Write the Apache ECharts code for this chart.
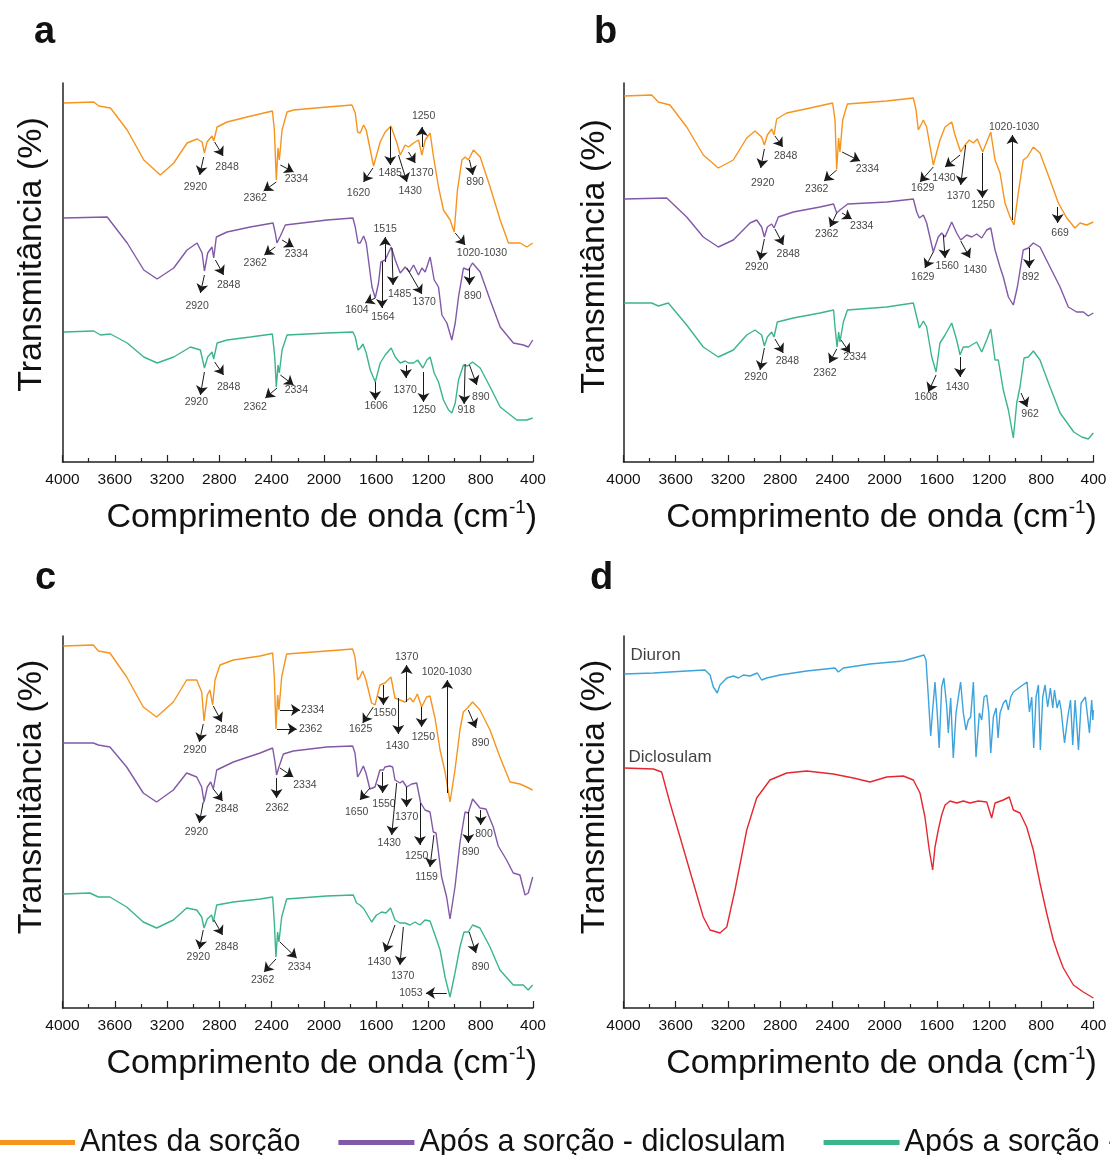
<!DOCTYPE html>
<html>
<head>
<meta charset="utf-8">
<script src="https://cdn.jsdelivr.net/npm/echarts@6/dist/echarts.min.js"></script>
<style>
html, body { margin: 0; padding: 0; background: #fff; }
#main { width: 1110px; height: 1155px; }
</style>
</head>
<body>
<div id="main"></div>
<script>
// FTIR spectra, x = wavenumber (cm-1), y = transmittance in arbitrary offset units
var xTicks = [4000, 3600, 3200, 2800, 2400, 2000, 1600, 1200, 800, 400];

var nameBefore = 'Antes da sorção';
var nameDic = 'Após a sorção - diclosulam';
var nameDiu = 'Após a sorção - diuron';

// panel a
var aBefore = [[3990,359],[3761,360],[3722,356],[3633,354],[3505,332],[3378,302],[3251,287],[3149,299],[3047,319],[2970,323],[2932,320],[2914,309],[2894,320],[2856,326],[2843,321],[2817,335],[2741,340],[2588,345],[2394,351],[2379,332],[2364,282],[2351,314],[2341,302],[2320,332],[2282,350],[2232,352],[1976,355],[1785,357],[1760,349],[1742,330],[1722,329],[1696,337],[1676,332],[1620,296],[1569,320],[1531,330],[1487,336],[1441,319],[1416,307],[1378,317],[1352,315],[1314,319],[1276,322],[1250,307],[1225,322],[1187,329],[1161,305],[1123,275],[1085,252],[1034,242],[1003,230],[978,272],[944,302],[919,305],[894,302],[856,312],[804,305],[728,275],[651,242],[588,219],[498,219],[447,215],[402,219]];
var aDiclosulam = [[3990,244],[3658,245],[3505,219],[3378,192],[3276,183],[3149,194],[3047,212],[2970,219],[2932,209],[2914,191],[2889,209],[2856,215],[2843,204],[2823,225],[2741,230],[2563,235],[2389,239],[2372,229],[2359,219],[2333,226],[2295,237],[1976,242],[1778,244],[1760,235],[1739,219],[1722,219],[1696,226],[1676,219],[1632,175],[1607,164],[1582,179],[1564,200],[1531,202],[1485,215],[1454,202],[1416,189],[1378,195],[1345,190],[1314,197],[1276,187],[1250,194],[1225,190],[1187,205],[1156,182],[1123,175],[1097,147],[1059,139],[1021,122],[995,139],[970,165],[932,194],[894,192],[863,199],[804,190],[728,162],[651,135],[550,119],[473,117],[435,115],[402,122]];
var aDiuron = [[3990,130],[3761,131],[3709,127],[3633,128],[3505,119],[3378,105],[3276,99],[3149,105],[3021,115],[2945,112],[2914,94],[2889,105],[2856,110],[2843,103],[2817,119],[2741,122],[2563,125],[2394,128],[2376,105],[2364,75],[2351,97],[2341,89],[2320,112],[2282,127],[1976,129],[1778,130],[1760,125],[1739,112],[1722,114],[1701,118],[1676,109],[1645,92],[1607,80],[1569,99],[1531,107],[1485,114],[1454,105],[1416,99],[1378,101],[1352,99],[1314,99],[1283,102],[1243,94],[1212,102],[1187,105],[1156,89],[1123,80],[1085,62],[1046,52],[1021,49],[995,59],[970,82],[932,97],[901,96],[863,100],[804,94],[728,75],[651,55],[524,42],[447,42],[402,44]];

// panel b
var bBefore = [[3995,366],[3784,367],[3733,360],[3644,357],[3516,335],[3389,307],[3274,294],[3159,302],[3056,324],[2993,331],[2942,325],[2921,317],[2898,327],[2865,333],[2847,327],[2827,343],[2750,349],[2571,354],[2398,359],[2380,342],[2367,293],[2352,324],[2342,310],[2321,342],[2285,358],[1984,361],[1780,364],[1759,352],[1742,332],[1729,332],[1703,342],[1678,335],[1627,297],[1576,322],[1537,335],[1486,340],[1461,327],[1417,310],[1384,317],[1351,322],[1320,319],[1290,323],[1249,310],[1218,320],[1187,330],[1154,302],[1116,289],[1078,259],[1039,245],[1009,237],[976,269],[938,302],[907,305],[861,315],[810,309],[733,282],[669,259],[605,244],[542,234],[503,239],[452,237],[401,240]];
var bDiclosulam = [[3995,263],[3669,264],[3516,245],[3389,225],[3274,215],[3159,222],[3031,239],[2980,242],[2942,235],[2921,225],[2898,235],[2865,238],[2847,234],[2814,245],[2699,250],[2495,255],[2391,258],[2367,249],[2342,252],[2283,258],[1984,260],[1780,263],[1754,250],[1734,244],[1703,247],[1678,239],[1627,210],[1589,225],[1563,229],[1537,225],[1486,240],[1448,229],[1417,222],[1371,227],[1333,225],[1295,228],[1256,224],[1218,232],[1187,234],[1154,212],[1116,195],[1091,185],[1052,165],[1014,157],[983,175],[938,212],[899,214],[861,219],[810,215],[733,195],[656,175],[593,155],[529,150],[478,150],[440,146],[401,149]];
var bDiuron = [[3995,159],[3784,159],[3733,156],[3657,159],[3516,137],[3389,115],[3274,105],[3159,112],[3056,127],[2993,132],[2942,127],[2921,116],[2898,125],[2865,130],[2847,125],[2822,140],[2699,144],[2495,149],[2391,152],[2380,135],[2364,115],[2352,130],[2342,120],[2316,140],[2285,152],[1984,155],[1780,159],[1754,145],[1734,134],[1703,141],[1678,135],[1639,105],[1606,90],[1576,119],[1537,127],[1486,139],[1448,122],[1422,107],[1397,115],[1358,115],[1333,117],[1295,120],[1256,110],[1218,122],[1187,133],[1154,102],[1129,102],[1091,72],[1052,52],[1014,24],[988,59],[963,75],[932,104],[899,105],[861,111],[810,102],[733,75],[656,49],[551,30],[490,25],[440,23],[401,29]];

// panel c
var cBefore = [[3994,362],[3764,363],[3726,357],[3637,355],[3509,331],[3382,301],[3280,291],[3152,306],[3050,328],[2973,328],[2935,316],[2917,287],[2892,313],[2872,318],[2851,303],[2833,328],[2795,343],[2693,348],[2488,352],[2392,355],[2379,331],[2367,279],[2354,313],[2344,298],[2323,331],[2285,354],[1979,357],[1780,359],[1762,351],[1742,328],[1724,331],[1703,337],[1678,328],[1635,305],[1609,303],[1571,323],[1533,325],[1487,331],[1456,310],[1418,308],[1380,306],[1341,310],[1316,306],[1285,314],[1252,301],[1214,311],[1188,312],[1150,290],[1111,258],[1073,236],[1035,206],[997,238],[959,278],[933,296],[902,300],[862,306],[806,298],[729,278],[653,251],[576,226],[500,224],[449,221],[403,218]];
var cDiclosulam = [[3994,265],[3764,265],[3726,263],[3637,261],[3509,241],[3382,215],[3280,206],[3152,218],[3050,235],[2973,231],[2935,221],[2917,206],[2892,221],[2866,226],[2846,219],[2820,238],[2693,246],[2488,255],[2392,260],[2374,246],[2362,233],[2344,241],[2310,254],[2234,257],[1979,261],[1780,262],[1762,255],[1742,231],[1724,235],[1698,242],[1678,235],[1648,219],[1609,221],[1571,238],[1545,238],[1533,241],[1495,242],[1474,241],[1456,228],[1418,225],[1397,227],[1367,221],[1328,224],[1290,225],[1259,205],[1226,198],[1188,196],[1163,176],[1142,175],[1099,131],[1061,111],[1035,89],[997,121],[959,165],[920,196],[895,195],[862,209],[806,200],[760,199],[704,181],[666,162],[602,148],[551,135],[500,133],[461,113],[436,115],[402,131]];
var cDiuron = [[3994,114],[3790,115],[3726,111],[3637,111],[3509,101],[3382,86],[3280,80],[3152,88],[3050,100],[2973,98],[2935,91],[2917,80],[2892,89],[2859,93],[2846,86],[2820,103],[2693,106],[2488,109],[2392,111],[2379,85],[2367,51],[2354,76],[2344,66],[2323,91],[2285,109],[1979,112],[1775,113],[1750,105],[1724,103],[1693,99],[1635,86],[1597,93],[1558,96],[1525,95],[1490,100],[1456,88],[1418,85],[1380,85],[1341,83],[1303,86],[1265,83],[1226,88],[1188,87],[1150,73],[1111,58],[1073,31],[1035,11],[997,35],[959,61],[928,76],[895,76],[862,83],[806,80],[729,61],[653,38],[551,23],[474,23],[437,18],[403,23]];

// panel d (pure herbicides)
var dDiuron = [[3995,334],[3771,335],[3516,337],[3376,338],[3337,333],[3312,321],[3282,315],[3261,323],[3209,330],[3159,332],[3120,330],[3082,333],[3031,332],[2975,335],[2942,328],[2903,330],[2801,333],[2597,337],[2380,340],[2354,336],[2316,340],[2112,344],[1857,347],[1698,353],[1683,348],[1665,311],[1647,272],[1632,298],[1614,326],[1597,295],[1582,260],[1563,321],[1546,330],[1524,301],[1512,275],[1494,310],[1474,250],[1453,295],[1436,310],[1418,326],[1397,295],[1377,278],[1359,288],[1341,291],[1320,326],[1300,251],[1274,295],[1256,288],[1238,311],[1218,313],[1202,296],[1187,255],[1167,291],[1146,300],[1131,270],[1116,295],[1090,305],[1070,308],[1052,298],[1034,311],[1014,316],[963,321],[909,326],[891,296],[873,311],[858,260],[840,311],[822,323],[807,258],[789,311],[771,323],[751,301],[730,320],[712,300],[699,318],[679,300],[661,308],[648,298],[622,265],[597,291],[576,308],[559,263],[541,308],[515,258],[495,305],[462,311],[431,275],[414,308],[405,288],[401,298]];
var dDiclosulam = [[3995,240],[3771,239],[3708,236],[3644,205],[3567,171],[3478,131],[3389,91],[3337,78],[3261,75],[3209,81],[3146,118],[3056,178],[2980,210],[2878,228],[2750,235],[2597,237],[2393,234],[2239,230],[2112,226],[1984,231],[1857,232],[1780,228],[1729,215],[1691,191],[1658,158],[1632,138],[1614,161],[1589,178],[1563,193],[1537,203],[1499,207],[1448,205],[1397,207],[1346,205],[1282,207],[1218,206],[1180,190],[1154,205],[1091,208],[1045,211],[1014,198],[963,195],[912,181],[861,158],[810,125],[759,95],[708,68],[669,53],[631,40],[554,23],[478,16],[401,10]];

// band labels: [text, arrow tail x, tail y, arrow head x, head y, text x, text y]
var annA = [
  ['2920',2920,305,2950,287,2983,275], ['2848',2836,320,2771,306,2741,295],
  ['2362',2364,280,2461,271,2525,264], ['2334',2333,297,2232,290,2211,283],
  ['1620',1625,294,1697,280,1735,269], ['1485',1492,335,1492,297,1492,289],
  ['1430',1429,307,1365,280,1340,271], ['1370',1353,310,1301,299,1250,289],
  ['1250',1250,315,1250,335,1237,346], ['890',886,302,860,287,843,280],
  ['1020-1030',995,229,919,217,791,209],
  ['2362',2372,215,2456,207,2525,199], ['2334',2320,222,2232,215,2211,208],
  ['2920',2914,187,2945,169,2970,156], ['2848',2830,202,2767,187,2729,177],
  ['1515',1531,200,1531,225,1531,233], ['1604',1607,164,1684,159,1747,152],
  ['1564',1556,200,1556,154,1548,145], ['1485',1479,214,1471,177,1421,168],
  ['1370',1365,194,1250,168,1232,160], ['890',886,194,886,177,860,166],
  ['2920',2914,90,2945,67,2976,60], ['2848',2836,100,2767,87,2729,75],
  ['2362',2359,74,2448,64,2525,55], ['2334',2333,87,2232,77,2211,72],
  ['1606',1607,80,1607,62,1600,56], ['1370',1372,97,1372,84,1378,72],
  ['1250',1238,90,1238,60,1232,52], ['918',919,98,927,58,911,52],
  ['890',886,97,830,77,799,65]
];
var annB = [
  ['2920',2921,313,2949,294,2934,279], ['2848',2840,326,2780,315,2758,306],
  ['2362',2367,292,2464,281,2520,273], ['2334',2326,310,2188,301,2132,293],
  ['1629',1627,295,1729,280,1708,274], ['1430',1422,307,1537,295,1545,284],
  ['1370',1379,317,1417,277,1435,266], ['1250',1251,309,1251,264,1246,257],
  ['1020-1030',1021,242,1021,327,1009,335], ['669',674,255,674,239,656,229],
  ['2362',2367,249,2418,235,2443,228], ['2334',2326,249,2252,243,2175,236],
  ['2920',2921,223,2954,202,2980,195], ['2848',2840,233,2776,217,2738,208],
  ['1629',1627,210,1691,194,1708,185], ['1560',1550,227,1537,204,1520,196],
  ['1430',1417,221,1346,204,1307,192], ['892',894,214,894,194,881,185],
  ['2920',2921,114,2954,92,2985,85], ['2848',2840,123,2776,109,2745,101],
  ['2362',2367,113,2423,99,2457,89], ['2334',2334,122,2265,109,2227,105],
  ['1608',1606,87,1665,70,1683,65], ['1430',1422,105,1422,85,1443,75],
  ['962',955,69,907,55,886,48]
];
var annC = [
  ['2920',2923,284,2953,266,2986,258], ['2848',2846,302,2782,286,2744,278],
  ['2334',2336,298,2183,298,2085,298], ['2362',2359,279,2208,279,2102,279],
  ['1625',1622,301,1703,285,1719,279], ['1550',1545,323,1545,303,1533,295],
  ['1430',1431,310,1431,274,1438,262], ['1370',1367,306,1367,343,1367,351],
  ['1250',1252,301,1252,281,1239,271], ['1020-1030',1056,215,1056,328,1060,336],
  ['890',895,298,836,280,801,265],
  ['2920',2923,206,2953,185,2975,176], ['2848',2846,219,2775,207,2744,199],
  ['2334',2336,240,2234,231,2145,223], ['2362',2362,230,2362,210,2357,200],
  ['1650',1648,220,1724,208,1749,196], ['1550',1550,236,1550,215,1540,204],
  ['1430',1443,225,1481,173,1500,165], ['1370',1367,221,1367,201,1367,191],
  ['1250',1265,205,1265,163,1290,152], ['1159',1158,173,1188,141,1214,131],
  ['890',895,196,895,165,877,156], ['800',800,198,800,183,775,174],
  ['2920',2923,78,2953,59,2961,51], ['2848',2841,88,2775,73,2744,61],
  ['2362',2367,49,2458,36,2469,28], ['2334',2336,66,2208,50,2188,41],
  ['1430',1456,83,1533,56,1576,46], ['1370',1392,81,1418,43,1397,32],
  ['1053',1060,15,1219,15,1334,15], ['890',888,76,836,55,801,41]
];
var annD = [['Diuron',3950,353], ['Diclosulam',3965,251]];

var FONT = "'Liberation Sans', Arial, sans-serif";
var INK = '#111';
var cBef = '#f7941d', cDic = '#8159a7', cDiu = '#3bb58e', cDiuronPure = '#3ca3dc', cDicloPure = '#e5282f';

var grids = [
  {left: 62.5, top: 83, width: 470.5, height: 379},
  {left: 623.5, top: 83, width: 470, height: 379},
  {left: 62.5, top: 636, width: 470.5, height: 372},
  {left: 623.5, top: 636, width: 470, height: 372}
];
var titleShift = [48, 46, 48, 46];
var yShift = [36, 32, 50, 50];
var yGap = [14, 12, 14, 12];

var axisLine = {show: true, onZero: false, lineStyle: {color: '#222', width: 1.5}};

var xAxes = grids.map(function (g, i) {
  return {
    type: 'value', gridIndex: i, min: 400, max: 4000, interval: 400, inverse: true,
    axisLine: axisLine,
    axisTick: {show: true, inside: true, length: 7, lineStyle: {color: '#222', width: 1.2}},
    minorTick: {show: true, splitNumber: 2, length: 4, lineStyle: {color: '#222', width: 1.2}},
    splitLine: {show: false},
    axisLabel: {
      fontSize: 15.5, color: INK, margin: 10, fontFamily: FONT, showMinLabel: true, showMaxLabel: true,
      formatter: function (v) { return String(v); }
    },
    name: '{t|Comprimento de onda (cm}{s|-1}{t|)}',
    nameLocation: 'middle', nameGap: 36,
    nameTextStyle: {
      padding: [0, 0, 0, titleShift[i]],
      rich: {
        t: {fontSize: 34, color: INK, fontFamily: FONT, lineHeight: 40},
        s: {fontSize: 19, color: INK, fontFamily: FONT, verticalAlign: 'top', lineHeight: 40}
      }
    }
  };
});

var yAxes = grids.map(function (g, i) {
  return {
    type: 'value', gridIndex: i, min: 0, max: g.height,
    axisLine: axisLine, axisTick: {show: false}, axisLabel: {show: false}, splitLine: {show: false},
    name: 'Transmitância (%)', nameLocation: 'middle', nameRotate: 90, nameGap: yGap[i],
    nameTextStyle: {fontSize: 34, color: INK, fontFamily: FONT, padding: [0, 0, 0, yShift[i]]}
  };
});

function lineSeries(name, data, color, idx) {
  return {
    type: 'line', name: name, xAxisIndex: idx, yAxisIndex: idx, data: data,
    symbol: 'none', showSymbol: false, silent: true, z: 2,
    lineStyle: {width: 1.4, color: color}, itemStyle: {color: color}
  };
}

function annotSeries(list, idx) {
  return {
    type: 'scatter', xAxisIndex: idx, yAxisIndex: idx, silent: true, z: 5,
    symbolSize: 1, itemStyle: {color: 'rgba(0,0,0,0)'},
    data: list.map(function (a) { return {name: a[0], value: [a[5], a[6]]}; }),
    label: {show: true, position: 'inside', formatter: '{b}', fontSize: 10.5, color: INK, fontFamily: FONT},
    markLine: {
      silent: true, symbol: ['none', 'arrow'], symbolSize: 9,
      lineStyle: {color: '#1a1a1a', width: 1, type: 'solid'},
      label: {show: false},
      data: list.map(function (a) { return [{coord: [a[1], a[2]]}, {coord: [a[3], a[4]]}]; })
    }
  };
}

var series = [
  lineSeries(nameBefore, aBefore, cBef, 0),
  lineSeries(nameDic, aDiclosulam, cDic, 0),
  lineSeries(nameDiu, aDiuron, cDiu, 0),
  lineSeries(nameBefore, bBefore, cBef, 1),
  lineSeries(nameDic, bDiclosulam, cDic, 1),
  lineSeries(nameDiu, bDiuron, cDiu, 1),
  lineSeries(nameBefore, cBefore, cBef, 2),
  lineSeries(nameDic, cDiclosulam, cDic, 2),
  lineSeries(nameDiu, cDiuron, cDiu, 2),
  lineSeries('Diuron', dDiuron, cDiuronPure, 3),
  lineSeries('Diclosulam', dDiclosulam, cDicloPure, 3),
  annotSeries(annA, 0),
  annotSeries(annB, 1),
  annotSeries(annC, 2),
  {
    type: 'scatter', xAxisIndex: 3, yAxisIndex: 3, silent: true, z: 5,
    symbolSize: 1, itemStyle: {color: 'rgba(0,0,0,0)'},
    data: annD.map(function (a) { return {name: a[0], value: [a[1], a[2]]}; }),
    label: {show: true, position: 'right', distance: 0, formatter: '{b}', fontSize: 17, color: INK, fontFamily: FONT}
  }
];

var letterStyle = {fontSize: 38, fontWeight: 'bold', color: INK, fontFamily: FONT};
var option = {
  backgroundColor: '#fff',
  animation: false,
  title: [
    {text: 'a', left: 34, top: 14, padding: 0, textStyle: letterStyle},
    {text: 'b', left: 594, top: 14, padding: 0, textStyle: letterStyle},
    {text: 'c', left: 35, top: 560, padding: 0, textStyle: letterStyle},
    {text: 'd', left: 590, top: 560, padding: 0, textStyle: letterStyle}
  ],
  legend: {
    data: [nameBefore, nameDic, nameDiu],
    left: -1, top: 1127, width: 2000, padding: 0,
    itemGap: 38, itemWidth: 76, itemHeight: 5, icon: 'rect',
    textStyle: {fontSize: 30.5, color: INK, fontFamily: FONT}
  },
  grid: grids,
  xAxis: xAxes,
  yAxis: yAxes,
  series: series
};

var myChart = echarts.init(document.getElementById('main'), null, {renderer: 'canvas'});
myChart.setOption(option);
</script>
</body>
</html>
